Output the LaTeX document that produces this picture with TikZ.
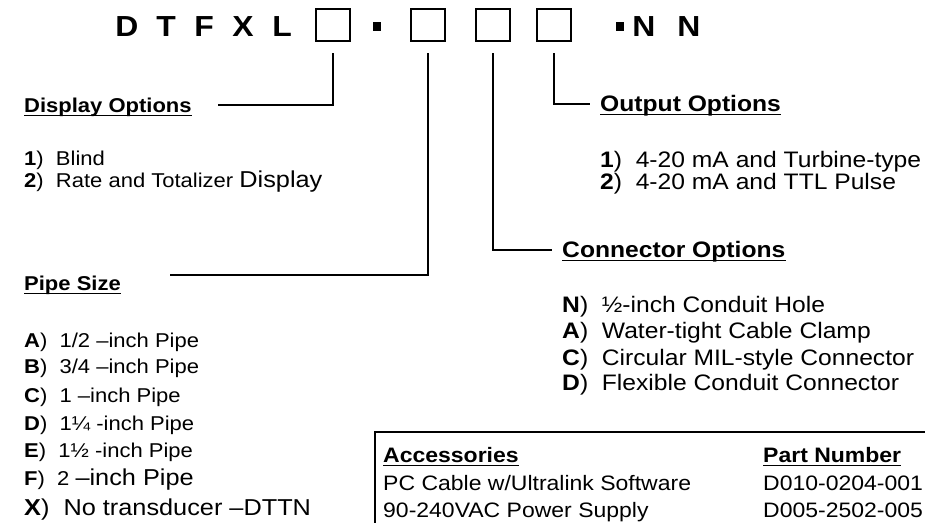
\documentclass[tikz,border=0pt]{standalone}
\usepackage{fontspec}
\setmainfont{Liberation Sans}[FakeStretch=1.1]
\newcommand{\lfs}{\fontsize{20}{22}\selectfont}
\newcommand{\lbig}{\fontsize{23}{25}\selectfont}
\newcommand{\rfs}{\fontsize{22.4}{24}\selectfont}
\newcommand{\afs}{\fontsize{20.9}{23}\selectfont}
\tikzset{
  txt/.style={anchor=base west, inner sep=0pt, font=\lfs},
  bigtxt/.style={anchor=base west, inner sep=0pt, font=\lbig},
  rtxt/.style={anchor=base west, inner sep=0pt, font=\rfs},
  atxt/.style={anchor=base west, inner sep=0pt, font=\afs},
  hdr/.style={anchor=base west, inner sep=0pt, font=\bfseries\lfs},
  rhdr/.style={anchor=base west, inner sep=0pt, font=\bfseries\rfs},
  ahdr/.style={anchor=base west, inner sep=0pt, font=\bfseries\afs},
  ttl/.style={anchor=base, inner sep=0pt, font=\bfseries\fontsize{29}{32}\selectfont},
  optbox/.style={draw, line width=1.3pt, minimum width=34pt, minimum height=32pt, inner sep=0pt},
  sqdot/.style={fill=black, minimum width=8pt, minimum height=9pt, inner sep=0pt},
  conn/.style={line width=1.5pt},
  ul/.style={line width=1.4pt},
}
\begin{document}
\begin{tikzpicture}[x=1pt,y=-1pt]
\useasboundingbox (0,0) rectangle (925,522);
\clip (0,0) rectangle (925,522);
% title row
\node[ttl] (tD) at (127,36) {D};
\node[ttl] (tT) at (166,36) {T};
\node[ttl] (tF) at (204,36) {F};
\node[ttl] (tX) at (243,36) {X};
\node[ttl] (tL) at (282,36) {L};
\node[optbox] (b1) at (333,25) {};
\node[sqdot] (d1) at (377,26) {};
\node[optbox] (b2) at (428,25) {};
\node[optbox] (b3) at (493,25) {};
\node[optbox] (b4) at (554,25) {};
\node[sqdot] (d2) at (620,26) {};
\node[ttl] (tN1) at (644,36) {N};
\node[ttl] (tN2) at (689,36) {N};
% connector start points
\coordinate (s1) at (333,53);
\coordinate (s2) at (428,53);
\coordinate (s3) at (493,53);
\coordinate (s4) at (554,53);
\coordinate (e1) at (218,105);
\coordinate (e2) at (170,275);
\coordinate (e3) at (552,250);
\coordinate (e4) at (590,104);
\draw[conn] (s1) |- (e1);
\draw[conn] (s2) |- (e2);
\draw[conn] (s3) |- (e3);
\draw[conn] (s4) |- (e4);
% Display options
\node[hdr] (hDisp) at (24,112) {Display Options};
\node[txt] (dsp1) at (24,165) {\textbf{1})\ \ Blind};
\node[txt] (dsp2) at (24,187) {\textbf{2})\ \ Rate and Totalizer {\lbig Display}};
% Output options
\node[rhdr] (hOut) at (600,111) {Output Options};
\node[rtxt] (out1) at (600,167) {\textbf{1})\ \ 4-20 mA and Turbine-type};
\node[rtxt] (out2) at (600,189) {\textbf{2})\ \ 4-20 mA and TTL Pulse};
% Connector options
\node[rhdr] (hCon) at (562,257) {Connector Options};
\node[rtxt] (con1) at (562,312) {\textbf{N})\ \ ½-inch Conduit Hole};
\node[rtxt] (con2) at (562,338) {\textbf{A})\ \ Water-tight Cable Clamp};
\node[rtxt] (con3) at (562,365) {\textbf{C})\ \ Circular MIL-style Connector};
\node[rtxt] (con4) at (562,390) {\textbf{D})\ \ Flexible Conduit Connector};
% Pipe size
\node[hdr] (hPipe) at (24,290) {Pipe Size};
\node[txt] (p1) at (24,347) {\textbf{A})\ \ 1/2 –inch Pipe};
\node[txt] (p2) at (24,373) {\textbf{B})\ \ 3/4 –inch Pipe};
\node[txt] (p3) at (24,402) {\textbf{C})\ \ 1 –inch Pipe};
\node[txt] (p4) at (24,430) {\textbf{D})\ \ 1¼ -inch Pipe};
\node[txt] (p5) at (24,457) {\textbf{E})\ \ 1½ -inch Pipe};
\node[txt] (p6) at (24,485) {\textbf{F})\ \ 2 {\lbig –inch Pipe}};
\node[bigtxt] (p7) at (24,515) {\textbf{X})\ \ No transducer –DTTN};
% Accessories table
\draw[line width=1.4pt] (950,432) -| (375,540);
\node[ahdr] (hAcc) at (383,462) {Accessories};
\node[ahdr] (hPart) at (763,462) {Part Number};
\node[atxt] (a1) at (383,490) {PC Cable w/Ultralink Software};
\node[atxt] (a2) at (383,517) {90-240VAC Power Supply};
\node[atxt] (n1) at (763,490) {D010-0204-001};
\node[atxt] (n2) at (763,517) {D005-2502-005};
% underlines
\foreach \h in {hDisp,hOut,hCon,hPipe,hAcc,hPart}
  \draw[ul] ([yshift=-3.5pt]\h.base west) -- ([yshift=-3.5pt]\h.base east);
\end{tikzpicture}
\end{document}
